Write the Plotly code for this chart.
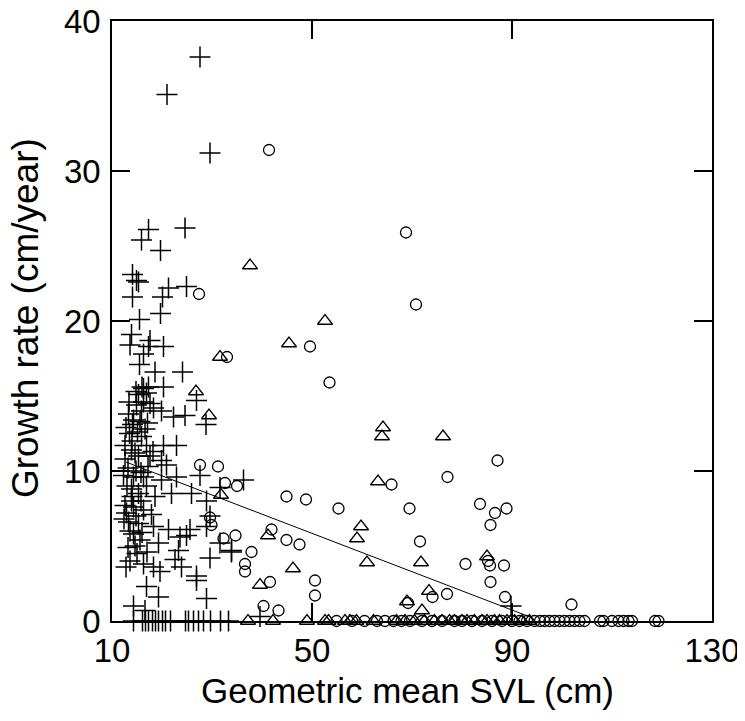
import plotly.graph_objects as go

# --- juveniles (+) ---
plus_x = [27.6, 21.0, 29.6, 24.6, 17.3, 15.9, 19.7, 14.1, 14.9, 15.3, 14.1, 21.3, 24.9, 20.1, 19.7,
          15.5, 13.9, 13.6, 17.6, 17.3, 20.3, 16.3, 15.5, 18.6, 24.1,
          16.3, 17.3, 20.3, 15.3, 16.9, 16.3, 17.6, 14.9, 13.3, 15.9, 18.3, 19.9, 22.3, 24.6, 14.3, 15.6,
          26.9, 28.8, 15.9, 12.6, 13.9, 16.9, 20.3, 22.9, 15.3, 17.6, 19.9, 20.9, 27.6, 31.6,
          12.3, 14.3, 16.3, 19.9, 22.9, 13.9, 16.9, 15.3, 18.6, 21.9, 25.9, 28.9, 12.6, 14.3, 16.3, 17.9,
          13.3, 15.3, 18.3, 21.3, 25.6, 29.6, 28.9, 14.3, 15.6, 19.3, 23.6, 24.9, 23.3, 31.6, 33.9,
          13.6, 16.3, 18.3, 19.6, 22.6, 23.9, 26.9, 26.9, 29.6, 16.9, 19.3, 14.3, 16.6, 28.9, 36.3, 33.9,
          12.8, 13.5, 14.0, 14.6, 12.6, 13.2, 14.8, 15.8, 13.0, 14.0, 15.8, 12.9, 14.8, 13.6, 14.6, 13.2,
          15.0, 12.8, 14.1, 15.1, 16.6, 17.1, 13.4, 14.8, 16.0, 13.9, 12.4, 17.2, 18.2, 16.0, 17.0, 89.8,
          14.3, 16.1, 16.7, 17.3, 18.1, 18.7, 19.3, 20.1, 20.7, 21.7, 24.7, 25.3, 26.3, 27.3, 28.3, 29.7,
          31.7, 33.3, 39.6]
plus_y = [37.6, 35.1, 31.2, 26.2, 26.1, 25.4, 24.7, 23.1, 22.7, 22.6, 21.6, 22.2, 22.3, 21.6, 20.5,
          20.1, 19.1, 18.4, 18.7, 18.3, 18.3, 17.8, 17.1, 16.6, 16.6,
          15.5, 15.6, 15.6, 15.1, 15.2, 14.6, 14.5, 14.4, 13.8, 14.0, 14.2, 14.0, 13.6, 13.7, 13.4, 13.3,
          14.7, 13.1, 12.3, 11.7, 11.4, 11.7, 11.7, 11.7, 11.0, 11.0, 10.7, 10.4, 9.7, 8.9,
          9.7, 9.6, 9.6, 9.4, 9.6, 8.8, 9.0, 8.5, 8.3, 8.5, 8.5, 8.0, 7.7, 7.6, 7.4, 7.1,
          6.6, 6.5, 6.3, 6.1, 6.1, 7.0, 6.3, 5.8, 5.4, 5.2, 5.6, 5.7, 4.7, 5.2, 4.7,
          4.0, 3.8, 3.6, 3.3, 4.1, 3.6, 3.0, 2.7, 4.2, 2.3, 1.6, 1.0, 0.7, 1.5, 9.4, 4.6,
          12.9, 12.5, 12.0, 11.2, 10.8, 10.2, 10.0, 9.9, 9.0, 8.3, 8.0, 7.2, 7.0, 6.0, 5.0, 4.9,
          4.5, 3.6, 13.1, 12.6, 12.8, 13.2, 14.6, 15.3, 15.6, 8.0, 6.8, 10.3, 11.3, 5.9, 4.6, 1.0,
          0.0, 0.0, 0.0, 0.0, 0.0, 0.0, 0.0, 0.0, 0.0, 0.0, 0.0, 0.0, 0.0, 0.0, 0.0, 0.0,
          0.0, 0.0, 0.3]

# --- triangles ---
tri_x = [37.6, 52.6, 45.4, 31.6, 26.8, 29.4, 64.2, 64.0, 76.2, 63.2, 31.8, 59.8, 59.0, 61.0, 71.8,
         41.2, 46.2, 39.6, 85.0, 73.4, 69.0, 72.0,
         37.2, 42.2, 49.0, 52.6, 53.3, 56.6, 57.6, 58.9, 62.3, 66.9, 68.6, 70.5, 72.5, 74.5, 76.0,
         77.5, 78.5, 80.0, 81.0, 82.5, 84.0, 85.0, 86.5, 87.5, 89.0, 90.5, 92.0, 93.5]
tri_y = [23.7, 20.0, 18.5, 17.6, 15.3, 13.7, 12.9, 12.3, 12.3, 9.3, 8.4, 6.3, 5.5, 3.9, 3.9,
         5.7, 3.5, 2.4, 4.3, 2.0, 1.3, 0.7,
         0.0, 0.0, 0.0, 0.0, 0.0, 0.0, 0.0, 0.0, 0.0, 0.0, 0.0, 0.0, 0.0, 0.0, 0.0,
         0.0, 0.0, 0.0, 0.0, 0.0, 0.0, 0.0, 0.0, 0.0, 0.0, 0.0, 0.0, 0.0]

# --- circles ---
circ_x = [41.4, 68.8, 70.8, 27.4, 33.0, 49.6, 53.5, 27.6, 31.2, 32.6, 35.0, 29.6, 29.9, 32.3, 34.7,
          65.9, 44.9, 48.8, 55.3, 69.5, 77.1, 87.1, 83.6, 86.6, 88.9, 85.7, 41.9, 44.9, 47.5, 37.9,
          36.6, 36.6, 41.6, 50.6, 50.6, 40.3, 43.3, 71.6, 80.7, 85.2, 85.6, 88.4, 85.7, 74.1, 77.0,
          88.6, 69.2, 101.9,
          54.9, 58.0, 60.5, 63.0, 64.6, 66.3, 67.9, 69.6, 72.0, 74.0, 76.0, 78.5, 80.0, 82.0, 84.0,
          86.0, 88.0, 90.0, 91.5, 93.0, 94.5, 95.6, 96.5, 97.5, 98.5, 99.5, 100.5, 101.5, 102.5,
          103.5, 104.5, 107.6, 108.3, 110.0, 111.3, 112.3, 113.3, 114.0, 118.6, 119.3]
circ_y = [31.4, 25.9, 21.1, 21.8, 17.6, 18.3, 15.9, 10.4, 10.3, 9.2, 9.0, 6.9, 6.4, 5.5, 5.7,
          9.1, 8.3, 8.1, 7.5, 7.5, 9.6, 10.7, 7.8, 7.2, 7.5, 6.4, 6.1, 5.4, 5.1, 4.6,
          3.8, 3.3, 2.6, 2.7, 1.7, 1.0, 0.7, 5.3, 3.8, 4.0, 3.7, 3.7, 2.6, 1.6, 1.8,
          1.6, 1.2, 1.1,
          0.0, 0.0, 0.0, 0.0, 0.0, 0.0, 0.0, 0.0, 0.0, 0.0, 0.0, 0.0, 0.0, 0.0, 0.0,
          0.0, 0.0, 0.0, 0.0, 0.0, 0.0, 0.0, 0.0, 0.0, 0.0, 0.0, 0.0, 0.0, 0.0,
          0.0, 0.0, 0.0, 0.0, 0.0, 0.0, 0.0, 0.0, 0.0, 0.0, 0.0]

# --- fitted line ---
fit_x = [12.8, 93.6]
fit_y = [10.6, 0.27]

x_ticks = [10, 50, 90, 130]
y_ticks = [0, 10, 20, 30, 40]

FONT = "Liberation Sans, Arial"

fig = go.Figure()
fig.add_trace(go.Scatter(x=fit_x, y=fit_y, mode="lines", cliponaxis=False,
                         line=dict(color="black", width=1), showlegend=False))
fig.add_trace(go.Scatter(x=tri_x, y=tri_y, mode="markers", cliponaxis=False,
                         marker=dict(symbol="triangle-up-open", size=13, color="black",
                                     line=dict(width=1.3, color="black")), showlegend=False))
fig.add_trace(go.Scatter(x=circ_x, y=circ_y, mode="markers", cliponaxis=False,
                         marker=dict(symbol="circle-open", size=11, color="black",
                                     line=dict(width=1.3, color="black")), showlegend=False))
fig.add_trace(go.Scatter(x=plus_x, y=plus_y, mode="markers", cliponaxis=False,
                         marker=dict(symbol="cross-thin", size=15, color="black",
                                     line=dict(width=1.5, color="black")), showlegend=False))

axis_common = dict(showline=True, linecolor="black", linewidth=1.5, mirror="ticks",
                   ticks="inside", ticklen=18, tickwidth=1.5, tickcolor="black",
                   showgrid=False, zeroline=False, automargin=False,
                   ticklabeloverflow="allow",
                   tickfont=dict(family=FONT, size=33, color="black"))

fig.update_xaxes(range=[10, 130], tickvals=x_ticks, ticktext=[str(v) for v in x_ticks],
                 ticklabelstandoff=0, **axis_common)
fig.update_yaxes(range=[0, 40], tickvals=y_ticks, ticktext=[str(v) for v in y_ticks],
                 ticklabelstandoff=3, **axis_common)
# page body has an 8px default margin; size the figure so the plot box sits at 112..712 x 21..621
fig.update_layout(
    width=737, height=713, margin=dict(l=104, r=33, t=13, b=100),
    plot_bgcolor="white", paper_bgcolor="white",
    annotations=[
        dict(text="Geometric mean SVL (cm)", xref="paper", yref="paper",
             x=0.492, y=-0.08, xanchor="center", yanchor="top", showarrow=False,
             font=dict(family=FONT, size=35, color="black")),
        dict(text="Growth rate (cm/year)", xref="paper", yref="paper",
             x=-0.145, y=0.505, xanchor="center", yanchor="middle", textangle=-90,
             showarrow=False, font=dict(family=FONT, size=37, color="black")),
    ],
)
fig.write_html("out.html")
